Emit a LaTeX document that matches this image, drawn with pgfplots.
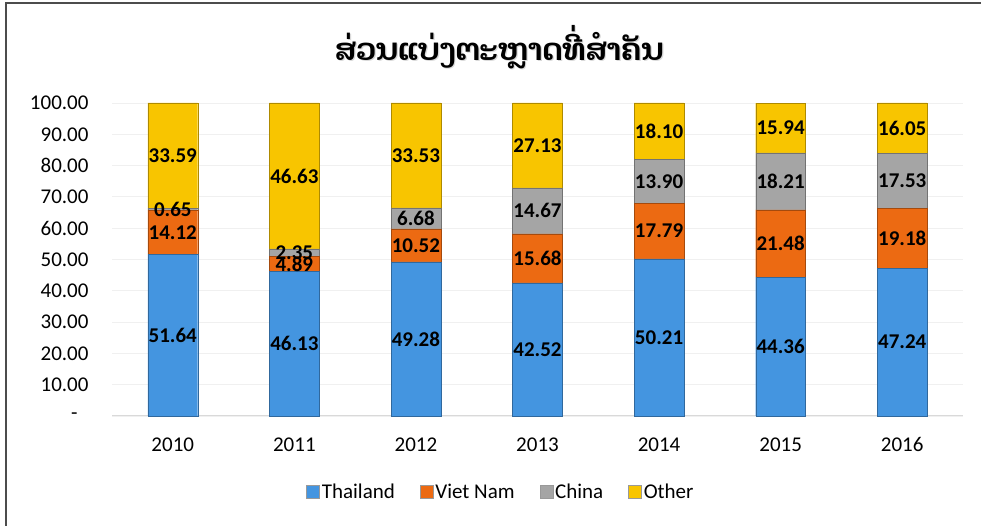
\documentclass[border=0pt]{standalone}
\usepackage{pgfplots}
\pgfplotsset{compat=1.18}
\usepackage{fontspec}
\setmainfont{Carlito}
\newfontfamily\laofont[Script=Lao]{Dhyana}
\definecolor{cTh}{HTML}{4495E0}
\definecolor{cVn}{HTML}{EC6A12}
\definecolor{cCn}{HTML}{A5A5A5}
\definecolor{cOt}{HTML}{F8C500}
\begin{document}
\begin{tikzpicture}
\useasboundingbox (0,0) rectangle (981bp,526bp);
\fill[white] (0,0) rectangle (981bp,526bp);
\draw[black!70,line width=1.2bp] (6bp,-20bp) -- (6bp,523bp) -- (1000bp,523bp);
\node[text=black!15,font=\laofont\bfseries\fontsize{30.5bp}{34bp}\selectfont] at (500.2bp,478bp) {ສ່ວນແບ່ງຕະຫຼາດທີ່ສຳຄັນ};
\node[font=\laofont\bfseries\fontsize{30.5bp}{34bp}\selectfont] at (499bp,479bp) {ສ່ວນແບ່ງຕະຫຼາດທີ່ສຳຄັນ};
\begin{axis}[
  at={(112bp,110bp)}, anchor=south west,
  scale only axis, width=851bp, height=313bp,
  ybar stacked, bar width=0.41,
  xmin=-0.5, xmax=6.5, ymin=0, ymax=100,
  xtick={0,1,2,3,4,5,6}, xticklabels={2010,2011,2012,2013,2014,2015,2016},
  ytick={0,10,20,30,40,50,60,70,80,90,100},
  yticklabels={-\hspace*{11bp},10.00,20.00,30.00,40.00,50.00,60.00,70.00,80.00,90.00,100.00},
  major tick length=0pt,
  ymajorgrids, grid style={black!6, line width=0.8bp},
  axis lines*=left,
  y axis line style={draw=none},
  x axis line style={draw=black!15, line width=1bp},
  tick label style={font=\fontsize{21bp}{24bp}\selectfont},
  yticklabel style={xshift=-20bp},
  xticklabel style={yshift=-18bp},
  enlargelimits=false,
  clip=false,
  /pgf/number format/assume math mode=true,
  nodes near coords={\textbf{\pgfmathprintnumber[fixed,fixed zerofill,precision=2,assume math mode=true]{\pgfplotspointmeta}}},
  every node near coord/.append style={font=\bfseries\fontsize{21bp}{24bp}\selectfont, anchor=center, inner sep=0pt},
  legend style={at={(0.457,-0.243)}, anchor=center, draw=none, legend columns=4,
     font=\fontsize{21bp}{24bp}\selectfont,
     /tikz/every even column/.append style={column sep=23bp}},
  legend image code/.code={\draw[#1,draw=black!40,line width=0.5bp] (0bp,-6.5bp) rectangle (13bp,6.5bp);},
]
\addplot[fill=cTh, draw=cTh!70!black] coordinates {(0,51.64) (1,46.13) (2,49.28) (3,42.52) (4,50.21) (5,44.36) (6,47.24)};
\addplot[fill=cVn, draw=cVn!70!black] coordinates {(0,14.12) (1,4.89) (2,10.52) (3,15.68) (4,17.79) (5,21.48) (6,19.18)};
\addplot[fill=cCn, draw=cCn!70!black] coordinates {(0,0.65) (1,2.35) (2,6.68) (3,14.67) (4,13.90) (5,18.21) (6,17.53)};
\addplot[fill=cOt, draw=cOt!70!black] coordinates {(0,33.59) (1,46.63) (2,33.53) (3,27.13) (4,18.10) (5,15.94) (6,16.05)};
\legend{Thailand,Viet Nam,China,Other}
\end{axis}
\end{tikzpicture}
\end{document}
